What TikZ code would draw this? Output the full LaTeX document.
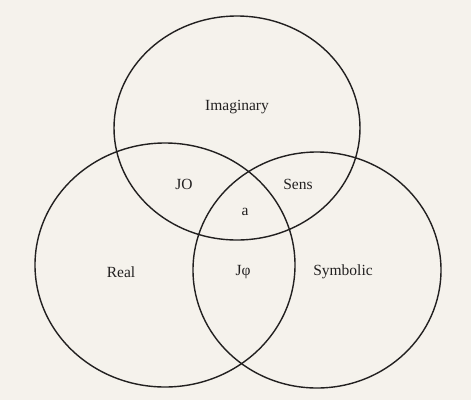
\documentclass[tikz,border=0pt]{standalone}
\usepackage{fontspec}
\setmainfont{Liberation Serif}
\definecolor{paper}{HTML}{F5F2EC}
\definecolor{ink}{HTML}{222020}
\begin{document}
\begin{tikzpicture}[x=1pt,y=-1pt,
  ring/.style={draw=ink,line width=1.4pt},
  lbl/.style={font=\fontsize{15.5}{18}\selectfont,text=ink,inner sep=0pt}]
\fill[paper] (0,0) rectangle (471,400);
\useasboundingbox (0,0) rectangle (471,400);
\draw[ring] (237,128) ellipse [x radius=123, y radius=112];
\draw[ring] (165,265) ellipse [x radius=130, y radius=122];
\draw[ring] (317,270) ellipse [x radius=124, y radius=118];
\node[lbl] (imag) at (237,107) {Imaginary};
\node[lbl] (jo) at (184,184) {JO};
\node[lbl] (sens) at (298,184) {Sens};
\node[lbl] (a) at (245,212) {a};
\node[lbl] (real) at (121,272) {Real};
\node[lbl] (jphi) at (243,272) {Jφ};
\node[lbl] (symb) at (343,272) {Symbolic};
\end{tikzpicture}
\end{document}
